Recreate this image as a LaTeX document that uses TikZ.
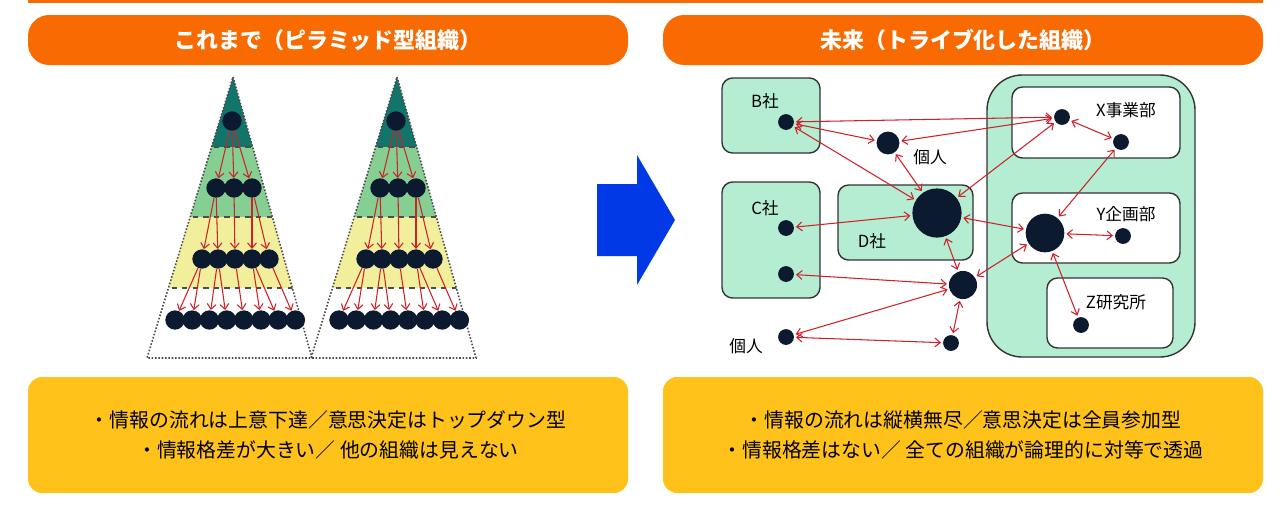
\documentclass[tikz,border=0pt]{standalone}
\usepackage{fontspec}
\setmainfont{Noto Sans CJK JP}
\usetikzlibrary{arrows.meta}
\definecolor{org}{HTML}{F96B00}
\definecolor{ylw}{HTML}{FFC21A}
\definecolor{teal1}{HTML}{12756B}
\definecolor{grn}{HTML}{86CF92}
\definecolor{yel}{HTML}{F1EE9C}
\definecolor{mint}{HTML}{B5EDD2}
\definecolor{dot}{HTML}{0B1A2E}
\definecolor{arr}{HTML}{D0202A}
\begin{document}
\begin{tikzpicture}[x=0.02cm,y=-0.02cm,
 hdr/.style={fill=org,rounded corners=12pt,draw=none},
 bot/.style={fill=ylw,rounded corners=8pt,draw=none},
 box/.style={draw=black!80,line width=0.8pt,rounded corners=6pt},
 nd/.style={circle,fill=dot,inner sep=0pt,minimum size=#1},
 pa/.style={draw=arr,line width=0.6pt,-{Straight Barb[length=3pt,width=5pt]}},
 da/.style={draw=arr,line width=0.6pt,{Straight Barb[length=3pt,width=5pt]}-{Straight Barb[length=3pt,width=5pt]},shorten <=1pt,shorten >=1pt},
 lb/.style={font=\fontsize{9.5pt}{10pt}\selectfont,inner sep=0pt}]
\useasboundingbox (0,0) rectangle (1280,505);
\draw[org,line width=1.2pt] (28,1.5) -- (1263,1.5);
% headers
\node[hdr,minimum width=600*0.02cm,minimum height=50*0.02cm,text=white,font=\fontsize{12.5pt}{13pt}\selectfont\bfseries] (h1) at (328,40) {これまで（ピラミッド型組織）};
\node[hdr,minimum width=600*0.02cm,minimum height=50*0.02cm,text=white,font=\fontsize{12.5pt}{13pt}\selectfont\bfseries] (h2) at (963,40) {未来（トライブ化した組織）};
% bottom boxes
\node[bot,minimum width=600*0.02cm,minimum height=116*0.02cm,align=center,font=\fontsize{11.3pt}{17pt}\selectfont] (b1) at (328,435) {・情報の流れは上意下達／意思決定はトップダウン型\\・情報格差が大きい／ 他の組織は見えない};
\node[bot,minimum width=600*0.02cm,minimum height=116*0.02cm,align=center,font=\fontsize{11.3pt}{17pt}\selectfont] (b2) at (963,435) {・情報の流れは縦横無尽／意思決定は全員参加型\\・情報格差はない／ 全ての組織が論理的に対等で透過};
% blue arrow
\fill[blue!75!cyan!90!black] (597,184) -- (637,184) -- (637,155) -- (675,220) -- (637,285) -- (637,256) -- (597,256) -- cycle;
% pyramids
\foreach \o/\p in {0/L,164/R}{
 \begin{scope}[xshift=\o*0.02cm]
  \begin{scope}
   \clip (233,77) -- (312,358) -- (147,358) -- cycle;
   \fill[teal1] (140,70) rectangle (320,147);
   \fill[grn] (140,147) rectangle (320,217);
   \fill[yel] (140,217) rectangle (320,288);
   \draw[black!70,dashed,line width=0.6pt] (140,147) -- (320,147) (140,217) -- (320,217) (140,288) -- (320,288);
  \end{scope}
  \draw[black!70,densely dotted,line width=0.9pt] (233,77) -- (312,358) -- (147,358) -- cycle;
  \node[nd=11pt] (\p a) at (232,121) {};
  \foreach \x [count=\i] in {216,234,252} \node[nd=11pt] (\p b\i) at (\x,188) {};
  \foreach \x [count=\i] in {202,218,235,252,269} \node[nd=11pt] (\p c\i) at (\x,259) {};
  \foreach \i in {1,...,8} \node[nd=11pt] (\p d\i) at (175+17.2*\i-17.2,320) {};
  \foreach \t in {1,2,3} \draw[pa] (\p a) -- (\p b\t);
  \foreach \s/\t in {1/1,1/2,2/3,3/4,3/5} \draw[pa] (\p b\s) -- (\p c\t);
  \foreach \s/\t in {1/1,1/2,2/3,2/4,3/5,4/6,4/7,5/8} \draw[pa] (\p c\s) -- (\p d\t);
 \end{scope}}
% right network boxes
\draw[box,fill=mint] (722,78) rectangle (820,153);
\draw[box,fill=mint] (722,182) rectangle (820,298);
\draw[box,fill=mint] (838,185) rectangle (973,260);
\draw[box,fill=mint,rounded corners=20pt] (987,75) rectangle (1195,357);
\draw[box,fill=white] (1012,87) rectangle (1180,158);
\draw[box,fill=white] (1012,193) rectangle (1180,263);
\draw[box,fill=white] (1047,278) rectangle (1173,348);
\node[lb] (lB) at (765,101) {B社};
\node[lb] (lC) at (765,208) {C社};
\node[lb] (lD) at (872,241) {D社};
\node[lb] (lX) at (1126,110) {X事業部};
\node[lb] (lY) at (1126,214) {Y企画部};
\node[lb] (lZ) at (1116,302) {Z研究所};
\node[lb] (lP1) at (930,157) {個人};
\node[lb] (lP2) at (746,346) {個人};
\node[nd=9pt] (B1) at (786,122) {};
\node[nd=13pt] (P1) at (888,143) {};
\node[nd=9pt] (X1) at (1062,117) {};
\node[nd=9pt] (X2) at (1121,142) {};
\node[nd=28pt] (D1) at (937,213) {};
\node[nd=22pt] (Y1) at (1045,233) {};
\node[nd=9pt] (Y2) at (1123,236) {};
\node[nd=9pt] (C1) at (786,228) {};
\node[nd=9pt] (C2) at (786,274) {};
\node[nd=16pt] (M) at (963,285) {};
\node[nd=9pt] (Z1) at (1081,325) {};
\node[nd=9pt] (P2) at (786,337) {};
\node[nd=9pt] (P3) at (951,343) {};
\foreach \a/\b in {B1/X1,B1/P1,B1/D1,P1/X1,P1/D1,X1/D1,X1/X2,X2/Y1,D1/C1,D1/Y1,D1/M,Y1/Y2,Y1/Z1,Y1/M,C2/M,M/P2,M/P3,P2/P3}
  \draw[da] (\a) -- (\b);
\end{tikzpicture}
\end{document}
